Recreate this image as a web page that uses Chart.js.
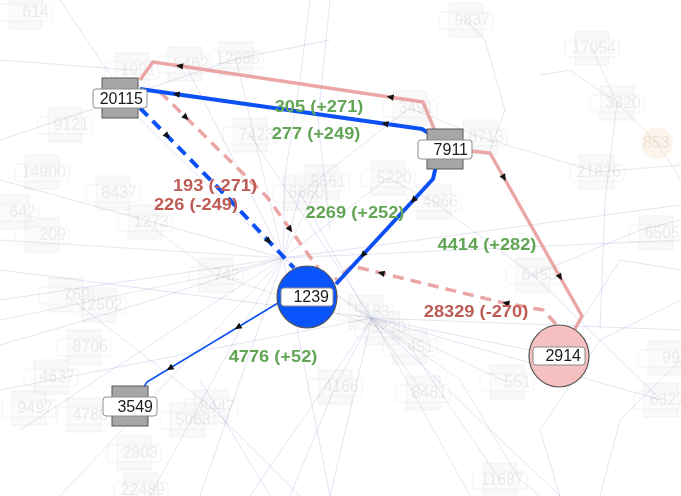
<!DOCTYPE html>
<html lang="en">
<head>
<meta charset="UTF-8" />
<title>Flow graph</title>
<script src="https://cdn.jsdelivr.net/npm/chart.js@4.4.1/dist/chart.umd.min.js"></script>
<style>
  html, body { margin: 0; padding: 0; background: #fff; }
  #wrap { width: 681px; height: 496px; }
</style>
</head>
<body>
<div id="wrap"><canvas id="graph" width="681" height="496"></canvas></div>
<script>
// --- main nodes ---
const nodeNames = ["20115", "7911", "1239", "2914", "3549"];
const nodeX = [120, 445, 307, 559, 130];
const nodeY = [98, 149, 297, 356, 406];
const nodeShape = ["box", "box", "circle", "circle", "box"];

// --- main edges (routes through the layout, first point = source) ---
const edgeRoutes = [
  [[140, 89], [422, 129], [440, 140]],
  [[436, 166], [433, 179], [336, 284]],
  [[140, 108], [230, 200], [294, 268]],
  [[283, 300], [147, 382], [142, 390]],
  [[160, 92], [267, 197], [318, 268]],
  [[556, 324], [543, 310], [500, 302], [352, 266], [335, 280]],
  [[140, 80], [153, 62], [423, 102], [442, 148], [490, 153], [582, 316], [572, 334]]
];
const edgeGain = [true, true, true, true, false, false, false];
const edgeDashed = [false, false, true, false, true, true, false];
const edgeThin = [false, false, false, true, false, false, false];
// arrow marks: [edge, segment, t, direction]
const arrowMarks = [
  [0, 0, 0.13, -1], [0, 0, 0.87, -1],
  [1, 1, 0.2, 1], [1, 1, 0.72, 1],
  [2, 0, 0.3, 1], [2, 1, 0.6, 1],
  [3, 0, 0.33, 1], [3, 0, 0.83, 1],
  [4, 0, 0.24, 1], [4, 1, 0.45, 1],
  [5, 1, 0.85, 1], [5, 2, 0.8, 1],
  [6, 1, 0.1, -1], [6, 1, 0.88, -1], [6, 4, 0.15, 1], [6, 4, 0.76, 1]
];

// --- flow labels ---
const flowValue = [305, 277, 193, 226, 2269, 4414, 28329, 4776];
const flowDelta = [271, 249, -271, -249, 252, 282, -270, 52];
const flowX = [319, 316, 215, 196, 355, 487, 476, 273];
const flowY = [108, 135, 187, 206, 214, 246, 313, 358];

// --- faded background nodes ---
const bgNames = ["9837", "17054", "12885", "1991", "5462", "3320", "9121", "7423", "3491", "8713",
  "14900", "21826", "8437", "5220", "5661", "6660", "4966", "1273", "642", "209", "6505", "6453",
  "742", "769", "12502", "5183", "3220", "451", "8706", "4637", "4166", "8461", "551", "997",
  "6327", "9497", "4788", "8447", "5063", "2803", "11687", "22489", "614"];
const bgX = [466, 592, 236, 132, 185, 617, 65, 250, 410, 480, 42, 597, 113, 388, 322, 300, 434,
  145, 12, 42, 656, 533, 216, 66, 99, 366, 382, 410, 84, 51, 335, 423, 507, 665, 661, 29, 84,
  211, 187, 134, 500, 141, 25];
const bgY = [20, 48, 59, 70, 64, 103, 125, 135, 108, 137, 172, 172, 193, 178, 182, 193, 202, 222,
  212, 235, 233, 275, 275, 295, 305, 312, 328, 347, 347, 377, 387, 393, 382, 358, 400, 408, 415,
  407, 420, 453, 480, 490, 12];
const bgCircleName = "853";
const bgCircleX = 657;
const bgCircleY = 143;

// --- faded background links ---
const bgLinks = [
  [[60, 0], [122, 92]], [[0, 140], [120, 100], [283, 258]], [[0, 180], [283, 258]],
  [[0, 240], [283, 258]], [[0, 300], [283, 258]], [[0, 345], [120, 310], [283, 258]],
  [[20, 430], [283, 258]], [[60, 496], [283, 258]], [[150, 496], [240, 330], [283, 258]],
  [[200, 496], [283, 258]], [[310, 0], [300, 80], [285, 175], [283, 258]], [[236, 59], [283, 258]],
  [[330, 0], [318, 120], [330, 230]], [[185, 64], [283, 258]], [[250, 135], [372, 318]],
  [[283, 258], [372, 318]], [[283, 258], [681, 240]], [[283, 258], [681, 205]],
  [[283, 258], [388, 178], [434, 202]], [[283, 258], [320, 182]], [[372, 318], [681, 330]],
  [[372, 318], [661, 400]], [[372, 318], [560, 496]], [[372, 318], [470, 496]],
  [[372, 318], [330, 496]], [[372, 318], [250, 496]], [[372, 318], [559, 356]],
  [[372, 318], [507, 382]], [[0, 270], [372, 318]], [[0, 390], [372, 318]],
  [[466, 20], [485, 40], [505, 110], [490, 150]], [[592, 48], [617, 103], [657, 143], [681, 180]],
  [[540, 75], [570, 70], [617, 103], [605, 200], [600, 330]], [[681, 270], [620, 260], [559, 356]],
  [[681, 300], [600, 340], [540, 430], [560, 496]], [[372, 318], [460, 380], [520, 480], [540, 496]],
  [[283, 258], [330, 496]], [[200, 380], [270, 496]], [[120, 98], [236, 59], [330, 40]],
  [[410, 108], [480, 137], [597, 172], [681, 165]], [[533, 275], [640, 230], [681, 220]],
  [[300, 193], [366, 312], [423, 393]], [[66, 295], [211, 407], [300, 496]],
  [[145, 222], [216, 275], [382, 328]], [[681, 360], [620, 420], [600, 496]],
  [[0, 60], [132, 70]], [[434, 202], [533, 275], [661, 400]],
  [[283, 258], [216, 275], [0, 320]], [[283, 258], [410, 347], [500, 480]],
  [[283, 258], [300, 193], [410, 108]], [[372, 318], [335, 387], [290, 496]]
];

const blue = "#0a50f6";
const pinkLine = "rgba(232,150,150,0.85)";
const green = "#62a555";
const red = "#bd5b55";

function edgeColor(i) { return edgeGain[i] ? blue : pinkLine; }

const datasets = [];
edgeRoutes.forEach((route, i) => {
  datasets.push({
    data: route.map(([a, b]) => ({ x: a, y: b })),
    showLine: true,
    borderColor: edgeColor(i),
    borderWidth: edgeThin[i] ? 1.5 : (edgeGain[i] ? 4 : 3.5),
    borderDash: edgeDashed[i] ? [11, 7] : [],
    borderJoinStyle: "round",
    pointRadius: 0,
    tension: 0
  });
});
bgLinks.forEach((route, i) => {
  datasets.push({
    data: route.map(([a, b]) => ({ x: a, y: b })),
    showLine: true,
    borderColor: i % 4 === 3 ? "rgba(150,150,160,0.22)" : "rgba(110,120,200,0.2)",
    borderWidth: 1,
    pointRadius: 0,
    tension: 0
  });
});

function stretchText(ctx, text, px, py, sx) {
  ctx.save();
  ctx.translate(px, py);
  ctx.scale(sx, 1);
  ctx.fillText(text, 0, 0);
  ctx.restore();
}

const graphPlugin = {
  id: "graph",
  beforeDatasetsDraw(chart) {
    const { ctx, scales: { x, y } } = chart;
    ctx.save();
    bgNames.forEach((name, i) => {
      const px = x.getPixelForValue(bgX[i]);
      const py = y.getPixelForValue(bgY[i]);
      ctx.fillStyle = "rgba(235,235,235,0.3)";
      ctx.strokeStyle = "rgba(215,215,215,0.3)";
      ctx.lineWidth = 1;
      ctx.fillRect(px - 17, py - 17, 34, 34);
      ctx.strokeRect(px - 17, py - 17, 34, 34);
      ctx.beginPath();
      ctx.roundRect(px - 27, py - 8, 54, 17, 3);
      ctx.fillStyle = "rgba(255,255,255,0.3)";
      ctx.fill();
      ctx.stroke();
      ctx.fillStyle = "rgba(200,200,200,0.35)";
      ctx.font = "16px 'Liberation Sans', Arial, sans-serif";
      ctx.textAlign = "right";
      ctx.textBaseline = "middle";
      ctx.fillText(name, px + 24, py + 1);
    });
    const cx = x.getPixelForValue(bgCircleX), cy = y.getPixelForValue(bgCircleY);
    ctx.beginPath();
    ctx.arc(cx, cy, 16, 0, Math.PI * 2);
    ctx.fillStyle = "rgba(250,225,200,0.35)";
    ctx.fill();
    ctx.fillStyle = "rgba(200,180,160,0.3)";
    ctx.font = "16px 'Liberation Sans', Arial, sans-serif";
    ctx.textAlign = "left";
    ctx.textBaseline = "middle";
    ctx.fillText(bgCircleName, cx - 14, cy + 1);
    ctx.restore();
  },
  afterDatasetsDraw(chart) {
    const { ctx, scales: { x, y } } = chart;
    ctx.save();
    // arrowheads
    arrowMarks.forEach(([e, s, t, dir]) => {
      const pts = chart.getDatasetMeta(e).data;
      const a = pts[s], b = pts[s + 1];
      const px = a.x + (b.x - a.x) * t, py = a.y + (b.y - a.y) * t;
      const ang = Math.atan2(b.y - a.y, b.x - a.x) + (dir < 0 ? Math.PI : 0);
      ctx.save();
      ctx.translate(px, py);
      ctx.rotate(ang);
      ctx.beginPath();
      ctx.moveTo(4, 0);
      ctx.lineTo(-3, -3.2);
      ctx.lineTo(-3, 3.2);
      ctx.closePath();
      ctx.fillStyle = "#111";
      ctx.fill();
      ctx.restore();
    });
    // main nodes
    nodeNames.forEach((name, i) => {
      const px = x.getPixelForValue(nodeX[i]);
      const py = y.getPixelForValue(nodeY[i]);
      let bx, bw, by, bh;
      if (nodeShape[i] === "box") {
        ctx.fillStyle = "#a6a6a6";
        ctx.strokeStyle = "#595959";
        ctx.lineWidth = 1;
        ctx.fillRect(px - 18, py - 20, 36, 40);
        ctx.strokeRect(px - 18, py - 20, 36, 40);
        bx = px - 27; bw = 54; by = py - 9; bh = 19;
      } else {
        ctx.beginPath();
        ctx.ellipse(px, py, 30, 31, 0, 0, Math.PI * 2);
        ctx.fillStyle = i === 2 ? "#0a55fb" : "#f6c0c0";
        ctx.fill();
        ctx.strokeStyle = "#555";
        ctx.lineWidth = 1.2;
        ctx.stroke();
        bx = px - 26; bw = 52; by = py - 9; bh = 18;
      }
      ctx.beginPath();
      ctx.roundRect(bx, by, bw, bh, 3);
      ctx.fillStyle = "#fff";
      ctx.fill();
      ctx.strokeStyle = "#8c8c8c";
      ctx.lineWidth = 1;
      ctx.stroke();
      ctx.fillStyle = "#1a1a1a";
      ctx.font = "16px 'Liberation Sans', Arial, sans-serif";
      ctx.textAlign = "right";
      ctx.textBaseline = "middle";
      ctx.fillText(name, bx + bw - 4, by + bh / 2 + 1);
    });
    // flow labels
    ctx.font = "bold 16px 'Liberation Sans', Arial, sans-serif";
    ctx.textAlign = "center";
    ctx.textBaseline = "middle";
    flowValue.forEach((v, i) => {
      const d = flowDelta[i];
      const text = v + " (" + (d > 0 ? "+" : "") + d + ")";
      ctx.fillStyle = d > 0 ? green : red;
      stretchText(ctx, text, x.getPixelForValue(flowX[i]), y.getPixelForValue(flowY[i]), 1.14);
    });
    ctx.restore();
  }
};

new Chart(document.getElementById("graph").getContext("2d"), {
  type: "scatter",
  data: { datasets },
  options: {
    responsive: false,
    animation: false,
    layout: { padding: 0 },
    scales: {
      x: { type: "linear", min: 0, max: 681, display: false },
      y: { type: "linear", min: 0, max: 496, reverse: true, display: false }
    },
    plugins: { legend: { display: false }, tooltip: { enabled: false } }
  },
  plugins: [graphPlugin]
});
</script>
</body>
</html>
